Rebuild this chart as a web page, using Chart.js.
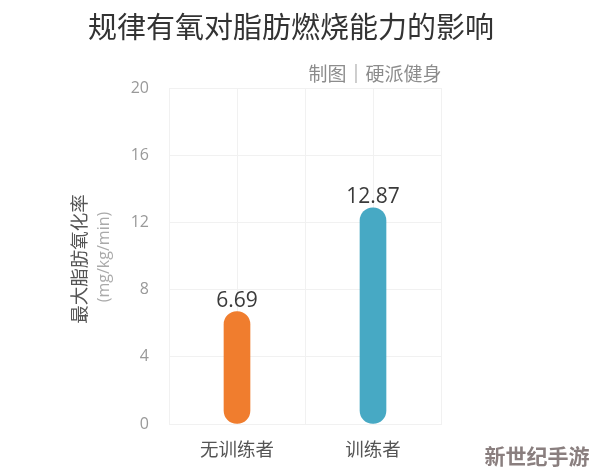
<!DOCTYPE html>
<html>
<head>
<meta charset="utf-8">
<style>
  html, body { margin: 0; padding: 0; background: #fff; }
  #wrap { width: 594px; height: 474px; }
</style>
<script src="https://cdn.jsdelivr.net/npm/chart.js@4"></script>
</head>
<body>
<div id="wrap"><canvas id="chart" width="594" height="474"></canvas></div>
<script>
const categories = ['无训练者', '训练者'];
const categorySlots = [1, 3];
const values = [6.69, 12.87];
const barColors = ['#f07d2e', '#47a9c4'];
const valueLabels = ['6.69', '12.87'];
const yTicks = [0, 4, 8, 12, 16, 20];

const titleText = '规律有氧对脂肪燃烧能力的影响';
const creditText = '制图｜硬派健身';
const yTitle = '最大脂肪氧化率';
const yUnit = '(mg/kg/min)';
const watermark = '新世纪手游';

const cjk = "'Noto Sans CJK SC', 'Noto Sans', sans-serif";
const latin = "'Open Sans', 'Noto Sans', sans-serif";

// Text the axes do not draw themselves
const annotations = {
    id: 'annotations',
    afterDatasetsDraw(chart) {
        const { ctx } = chart;
        const meta = chart.getDatasetMeta(0);

        ctx.save();
        ctx.textBaseline = 'middle';
        ctx.textAlign = 'center';

        ctx.fillStyle = '#333';
        ctx.font = `29px ${cjk}`;
        ctx.fillText(titleText, 291, 27);

        ctx.fillStyle = '#8c8c8c';
        ctx.font = `19px ${cjk}`;
        ctx.fillText(creditText, 375, 74);

        ctx.fillStyle = '#3a3a3a';
        ctx.font = `21px ${latin}`;
        meta.data.forEach((bar, i) => {
            ctx.fillText(valueLabels[i], bar.x, bar.y - 11);
        });

        ctx.save();
        ctx.translate(79, 259);
        ctx.rotate(-Math.PI / 2);
        ctx.fillStyle = '#555';
        ctx.font = `18.5px ${cjk}`;
        ctx.fillText(yTitle, 0, 0);
        ctx.restore();

        ctx.save();
        ctx.translate(104, 257);
        ctx.rotate(-Math.PI / 2);
        ctx.fillStyle = '#aaa';
        ctx.font = `16px ${latin}`;
        ctx.fillText(yUnit, 0, 0);
        ctx.restore();

        ctx.fillStyle = '#8a7f7f';
        ctx.font = `bold 21px ${cjk}`;
        ctx.fillText(watermark, 537, 456);
        ctx.restore();
    }
};

new Chart(document.getElementById('chart'), {
    type: 'bar',
    data: {
        datasets: [{
            data: categorySlots.map((x, i) => ({ x: x, y: values[i] })),
            backgroundColor: barColors,
            barThickness: 26,
            borderRadius: 13,
            borderSkipped: false
        }]
    },
    options: {
        responsive: false,
        animation: false,
        layout: { padding: { top: 88, right: 153, left: 0, bottom: 0 } },
        plugins: { legend: { display: false }, tooltip: { enabled: false } },
        scales: {
            x: {
                type: 'linear',
                offset: false,
                min: 0,
                max: 4,
                afterFit(scale) { scale.height = 50; },
                afterBuildTicks(scale) {
                    scale.ticks = [0, 1, 2, 3, 4].map(v => ({ value: v }));
                },
                grid: { color: '#f1f1f1', drawTicks: false, offset: false },
                border: { color: '#f1f1f1' },
                ticks: {
                    padding: 14,
                    maxRotation: 0,
                    autoSkip: false,
                    color: '#555',
                    font: { family: cjk, size: 18.5 },
                    callback(value) {
                        const i = categorySlots.indexOf(value);
                        return i >= 0 ? categories[i] : '';
                    }
                }
            },
            y: {
                min: 0,
                max: 20,
                afterFit(scale) { scale.width = 169; },
                afterBuildTicks(scale) {
                    scale.ticks = yTicks.map(v => ({ value: v }));
                },
                grid: { color: '#f1f1f1', drawTicks: false },
                border: { color: '#f1f1f1' },
                ticks: {
                    padding: 20,
                    color: '#999',
                    font: { family: latin, size: 16 }
                }
            }
        }
    },
    plugins: [annotations]
});
</script>
</body>
</html>
